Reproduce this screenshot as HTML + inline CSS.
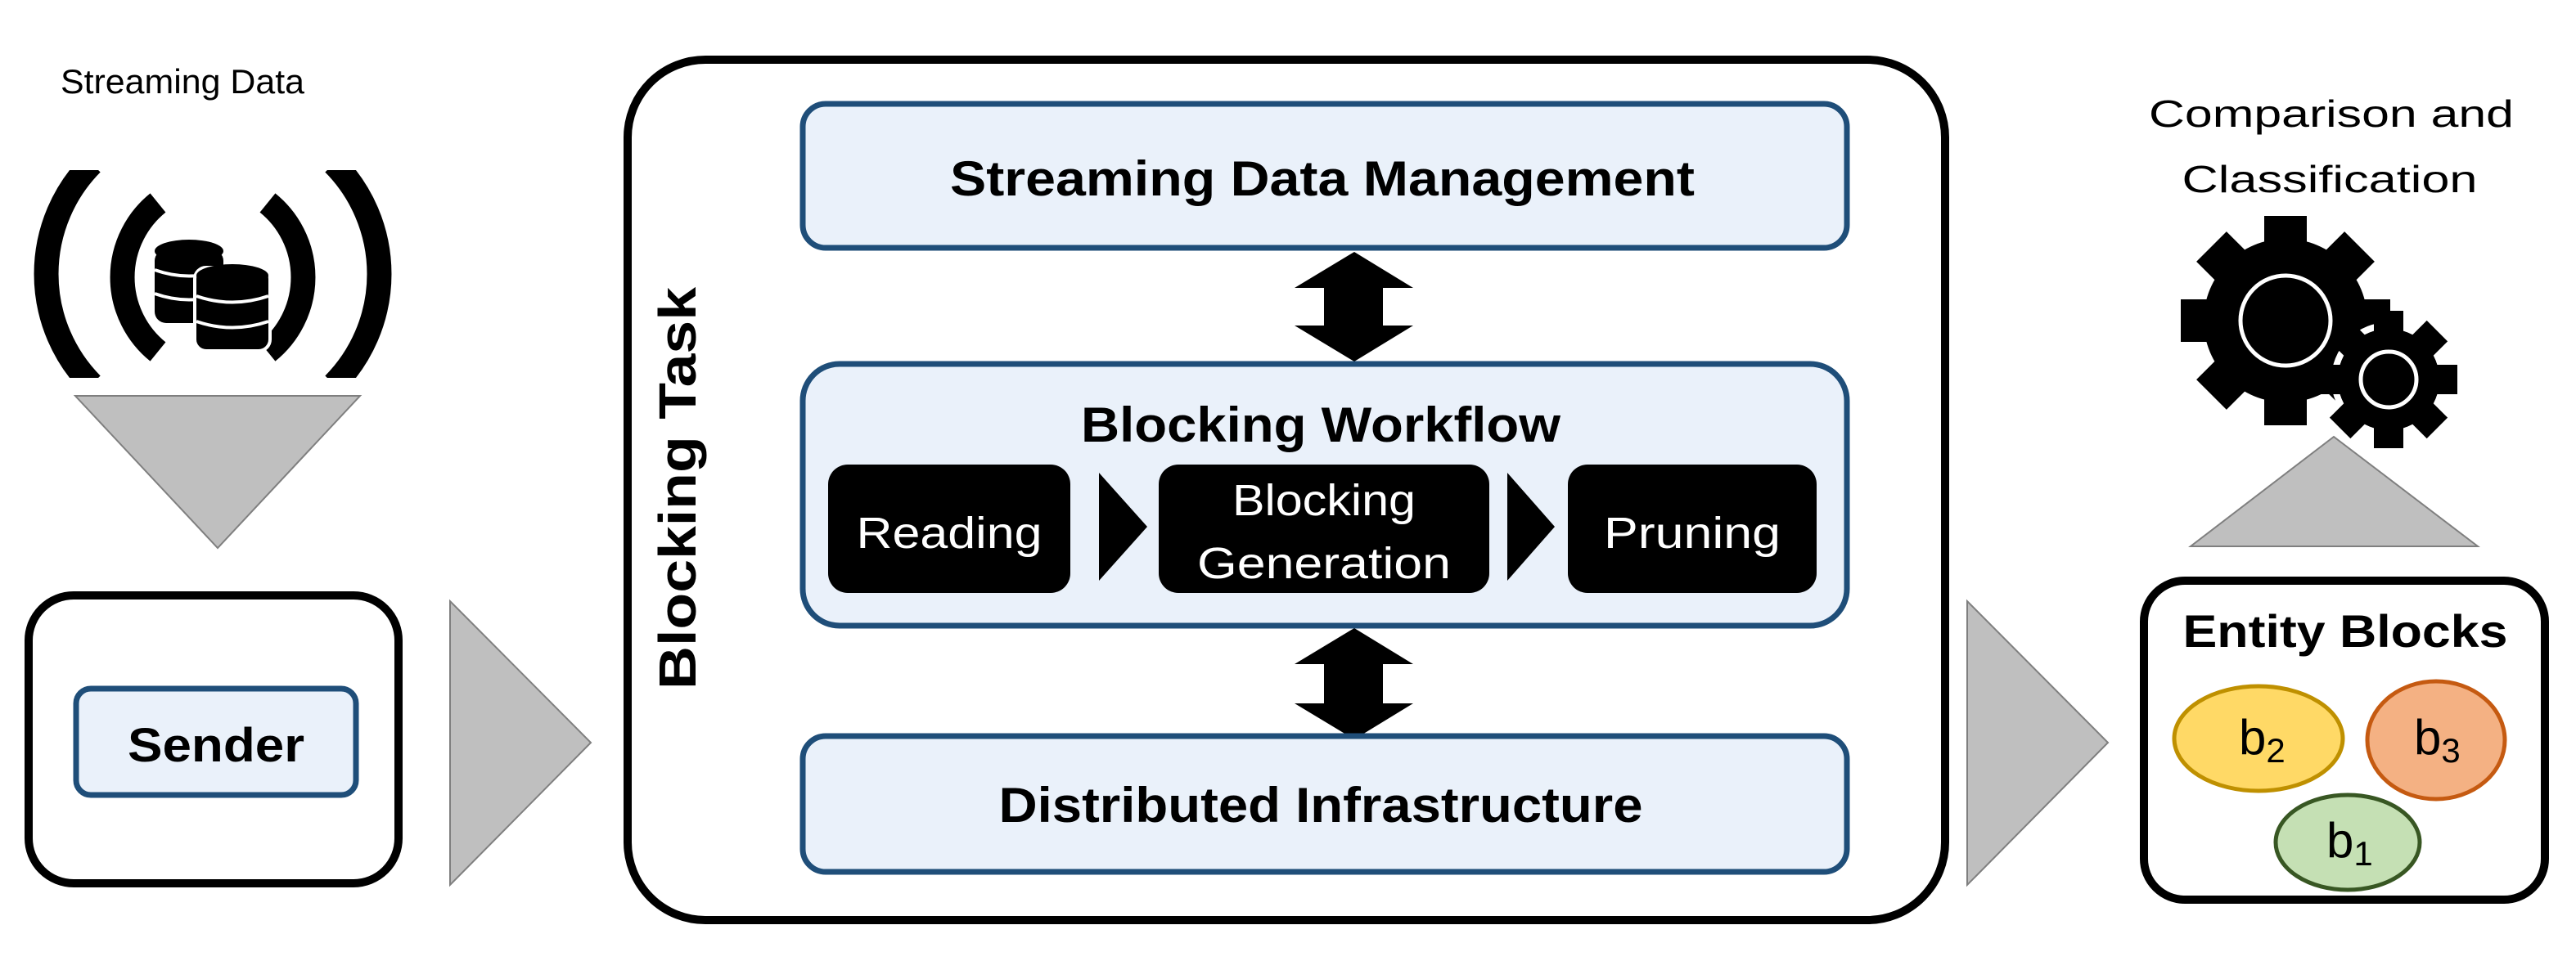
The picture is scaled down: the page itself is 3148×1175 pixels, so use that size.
<!DOCTYPE html>
<html><head><meta charset="utf-8"><style>
html,body{margin:0;padding:0;background:#fff}
svg{display:block}
text{font-family:"Liberation Sans",sans-serif}
</style></head><body>
<svg width="3148" height="1175" viewBox="0 0 3148 1175" xmlns="http://www.w3.org/2000/svg">
<defs>
<clipPath id="wc"><rect x="0" y="208" width="600" height="254"/></clipPath>
</defs>
<!-- Streaming data -->
<text x="223" y="114" font-size="42" text-anchor="middle" textLength="298" lengthAdjust="spacingAndGlyphs">Streaming Data</text>
<g clip-path="url(#wc)" fill="none" stroke="#000" stroke-width="30">
<path d="M 112 200 A 192 192 0 0 0 112 470"/>
<path d="M 408 200 A 192 192 0 0 1 408 470"/>
</g>
<g fill="none" stroke="#000" stroke-width="30">
<path d="M 193 248 A 117 117 0 0 0 193 430"/>
<path d="M 327 248 A 117 117 0 0 1 327 430"/>
</g>
<!-- databases -->
<g>
<rect x="189" y="305" width="84" height="90" rx="14" fill="#000"/>
<ellipse cx="231" cy="307" rx="42" ry="14" fill="#000"/>
<path d="M189 330 Q231 345 273 330" stroke="#fff" stroke-width="4" fill="none"/>
<path d="M189 359 Q231 374 273 359" stroke="#fff" stroke-width="4" fill="none"/>
<rect x="238" y="327" width="92" height="102" rx="14" fill="#000" stroke="#fff" stroke-width="4"/>
<ellipse cx="284" cy="337" rx="44" ry="14" fill="#000"/>
<path d="M240 362 Q284 377 328 362" stroke="#fff" stroke-width="4" fill="none"/>
<path d="M240 393 Q284 408 328 393" stroke="#fff" stroke-width="4" fill="none"/>
</g>
<!-- down triangle -->
<polygon points="92,484 440,484 266,670" fill="#bfbfbf" stroke="#7f7f7f" stroke-width="2"/>
<!-- Sender -->
<rect x="35" y="728" width="452" height="352" rx="55" fill="#fff" stroke="#000" stroke-width="10"/>
<rect x="93" y="842" width="342" height="130" rx="18" fill="#eaf1fa" stroke="#1f4e79" stroke-width="7"/>
<text x="264" y="931" font-size="58" font-weight="bold" text-anchor="middle" textLength="216" lengthAdjust="spacingAndGlyphs">Sender</text>
<!-- right triangle 1 -->
<polygon points="550,735 550,1082 722,908" fill="#bfbfbf" stroke="#7f7f7f" stroke-width="2"/>
<!-- Main box -->
<rect x="767" y="73" width="1610" height="1052" rx="95" fill="#fff" stroke="#000" stroke-width="10"/>
<text transform="translate(850,597) rotate(-90)" font-size="64" font-weight="bold" text-anchor="middle" textLength="492" lengthAdjust="spacingAndGlyphs">Blocking Task</text>
<rect x="981" y="127" width="1276" height="176" rx="28" fill="#eaf1fa" stroke="#1f4e79" stroke-width="7"/>
<text x="1616" y="239" font-size="60" font-weight="bold" text-anchor="middle" textLength="910" lengthAdjust="spacingAndGlyphs">Streaming Data Management</text>
<!-- double arrows -->
<polygon points="1655,308 1727,352 1690,352 1690,398 1727,398 1655,442 1582,398 1618,398 1618,352 1582,352" fill="#000"/>
<polygon points="1655,768 1727,812 1690,812 1690,860 1727,860 1655,904 1582,860 1618,860 1618,812 1582,812" fill="#000"/>
<rect x="981" y="445" width="1276" height="320" rx="45" fill="#eaf1fa" stroke="#1f4e79" stroke-width="7"/>
<text x="1614" y="540" font-size="60" font-weight="bold" text-anchor="middle" textLength="586" lengthAdjust="spacingAndGlyphs">Blocking Workflow</text>
<rect x="1012" y="568" width="296" height="157" rx="24" fill="#000"/>
<text x="1160" y="670" font-size="54" fill="#fff" text-anchor="middle" textLength="227" lengthAdjust="spacingAndGlyphs">Reading</text>
<polygon points="1343,578 1402,644 1343,710" fill="#000"/>
<rect x="1416" y="568" width="404" height="157" rx="24" fill="#000"/>
<text x="1618" y="630" font-size="54" fill="#fff" text-anchor="middle" textLength="224" lengthAdjust="spacingAndGlyphs">Blocking</text>
<text x="1618" y="707" font-size="54" fill="#fff" text-anchor="middle" textLength="310" lengthAdjust="spacingAndGlyphs">Generation</text>
<polygon points="1842,578 1900,644 1842,710" fill="#000"/>
<rect x="1916" y="568" width="304" height="157" rx="24" fill="#000"/>
<text x="2068" y="670" font-size="54" fill="#fff" text-anchor="middle" textLength="216" lengthAdjust="spacingAndGlyphs">Pruning</text>
<rect x="981" y="900" width="1276" height="166" rx="28" fill="#eaf1fa" stroke="#1f4e79" stroke-width="7"/>
<text x="1614" y="1005" font-size="60" font-weight="bold" text-anchor="middle" textLength="787" lengthAdjust="spacingAndGlyphs">Distributed Infrastructure</text>
<!-- right triangle 2 -->
<polygon points="2404,735 2404,1082 2576,908" fill="#bfbfbf" stroke="#7f7f7f" stroke-width="2"/>
<!-- Comparison -->
<text x="2849" y="155" font-size="46" text-anchor="middle" textLength="446" lengthAdjust="spacingAndGlyphs">Comparison and</text>
<text x="2847" y="235" font-size="46" text-anchor="middle" textLength="361" lengthAdjust="spacingAndGlyphs">Classification</text>
<!-- gears -->
<g transform="translate(2793,392)">
<circle r="100" fill="#000"/>
<g fill="#000">
<rect x="-26" y="-128" width="52" height="40"/>
<rect x="-26" y="-128" width="52" height="40" transform="rotate(45)"/>
<rect x="-26" y="-128" width="52" height="40" transform="rotate(90)"/>
<rect x="-26" y="-128" width="52" height="40" transform="rotate(135)"/>
<rect x="-26" y="-128" width="52" height="40" transform="rotate(180)"/>
<rect x="-26" y="-128" width="52" height="40" transform="rotate(225)"/>
<rect x="-26" y="-128" width="52" height="40" transform="rotate(270)"/>
<rect x="-26" y="-128" width="52" height="40" transform="rotate(315)"/>
</g>
<circle r="55" fill="none" stroke="#fff" stroke-width="5"/>
</g>
<g transform="translate(2919,464)">
<circle r="66" fill="#000" stroke="#fff" stroke-width="8"/>
<g fill="#000">
<rect x="-18" y="-84" width="36" height="30"/>
<rect x="-18" y="-84" width="36" height="30" transform="rotate(45)"/>
<rect x="-18" y="-84" width="36" height="30" transform="rotate(90)"/>
<rect x="-18" y="-84" width="36" height="30" transform="rotate(135)"/>
<rect x="-18" y="-84" width="36" height="30" transform="rotate(180)"/>
<rect x="-18" y="-84" width="36" height="30" transform="rotate(225)"/>
<rect x="-18" y="-84" width="36" height="30" transform="rotate(270)"/>
<rect x="-18" y="-84" width="36" height="30" transform="rotate(315)"/>
</g>
<circle r="62" fill="#000"/>
<circle r="34" fill="none" stroke="#fff" stroke-width="5"/>
</g>
<!-- up triangle -->
<polygon points="2677,668 3028,668 2852,534" fill="#bfbfbf" stroke="#7f7f7f" stroke-width="2"/>
<!-- Entity blocks -->
<rect x="2620" y="710" width="490" height="390" rx="50" fill="#fff" stroke="#000" stroke-width="10"/>
<text x="2866" y="791" font-size="56" font-weight="bold" text-anchor="middle" textLength="397" lengthAdjust="spacingAndGlyphs">Entity Blocks</text>
<ellipse cx="2760" cy="903" rx="103" ry="64" fill="#ffd966" stroke="#bf9000" stroke-width="5"/>
<ellipse cx="2977" cy="905" rx="84" ry="72" fill="#f4b183" stroke="#c55a11" stroke-width="5"/>
<ellipse cx="2869" cy="1030" rx="88" ry="58" fill="#c5e0b4" stroke="#385723" stroke-width="5"/>
<text x="2736" y="922" font-size="60">b<tspan font-size="42" dy="10">2</tspan></text>
<text x="2950" y="922" font-size="60">b<tspan font-size="42" dy="10">3</tspan></text>
<text x="2843" y="1048" font-size="60">b<tspan font-size="42" dy="10">1</tspan></text>
</svg>
</body></html>
